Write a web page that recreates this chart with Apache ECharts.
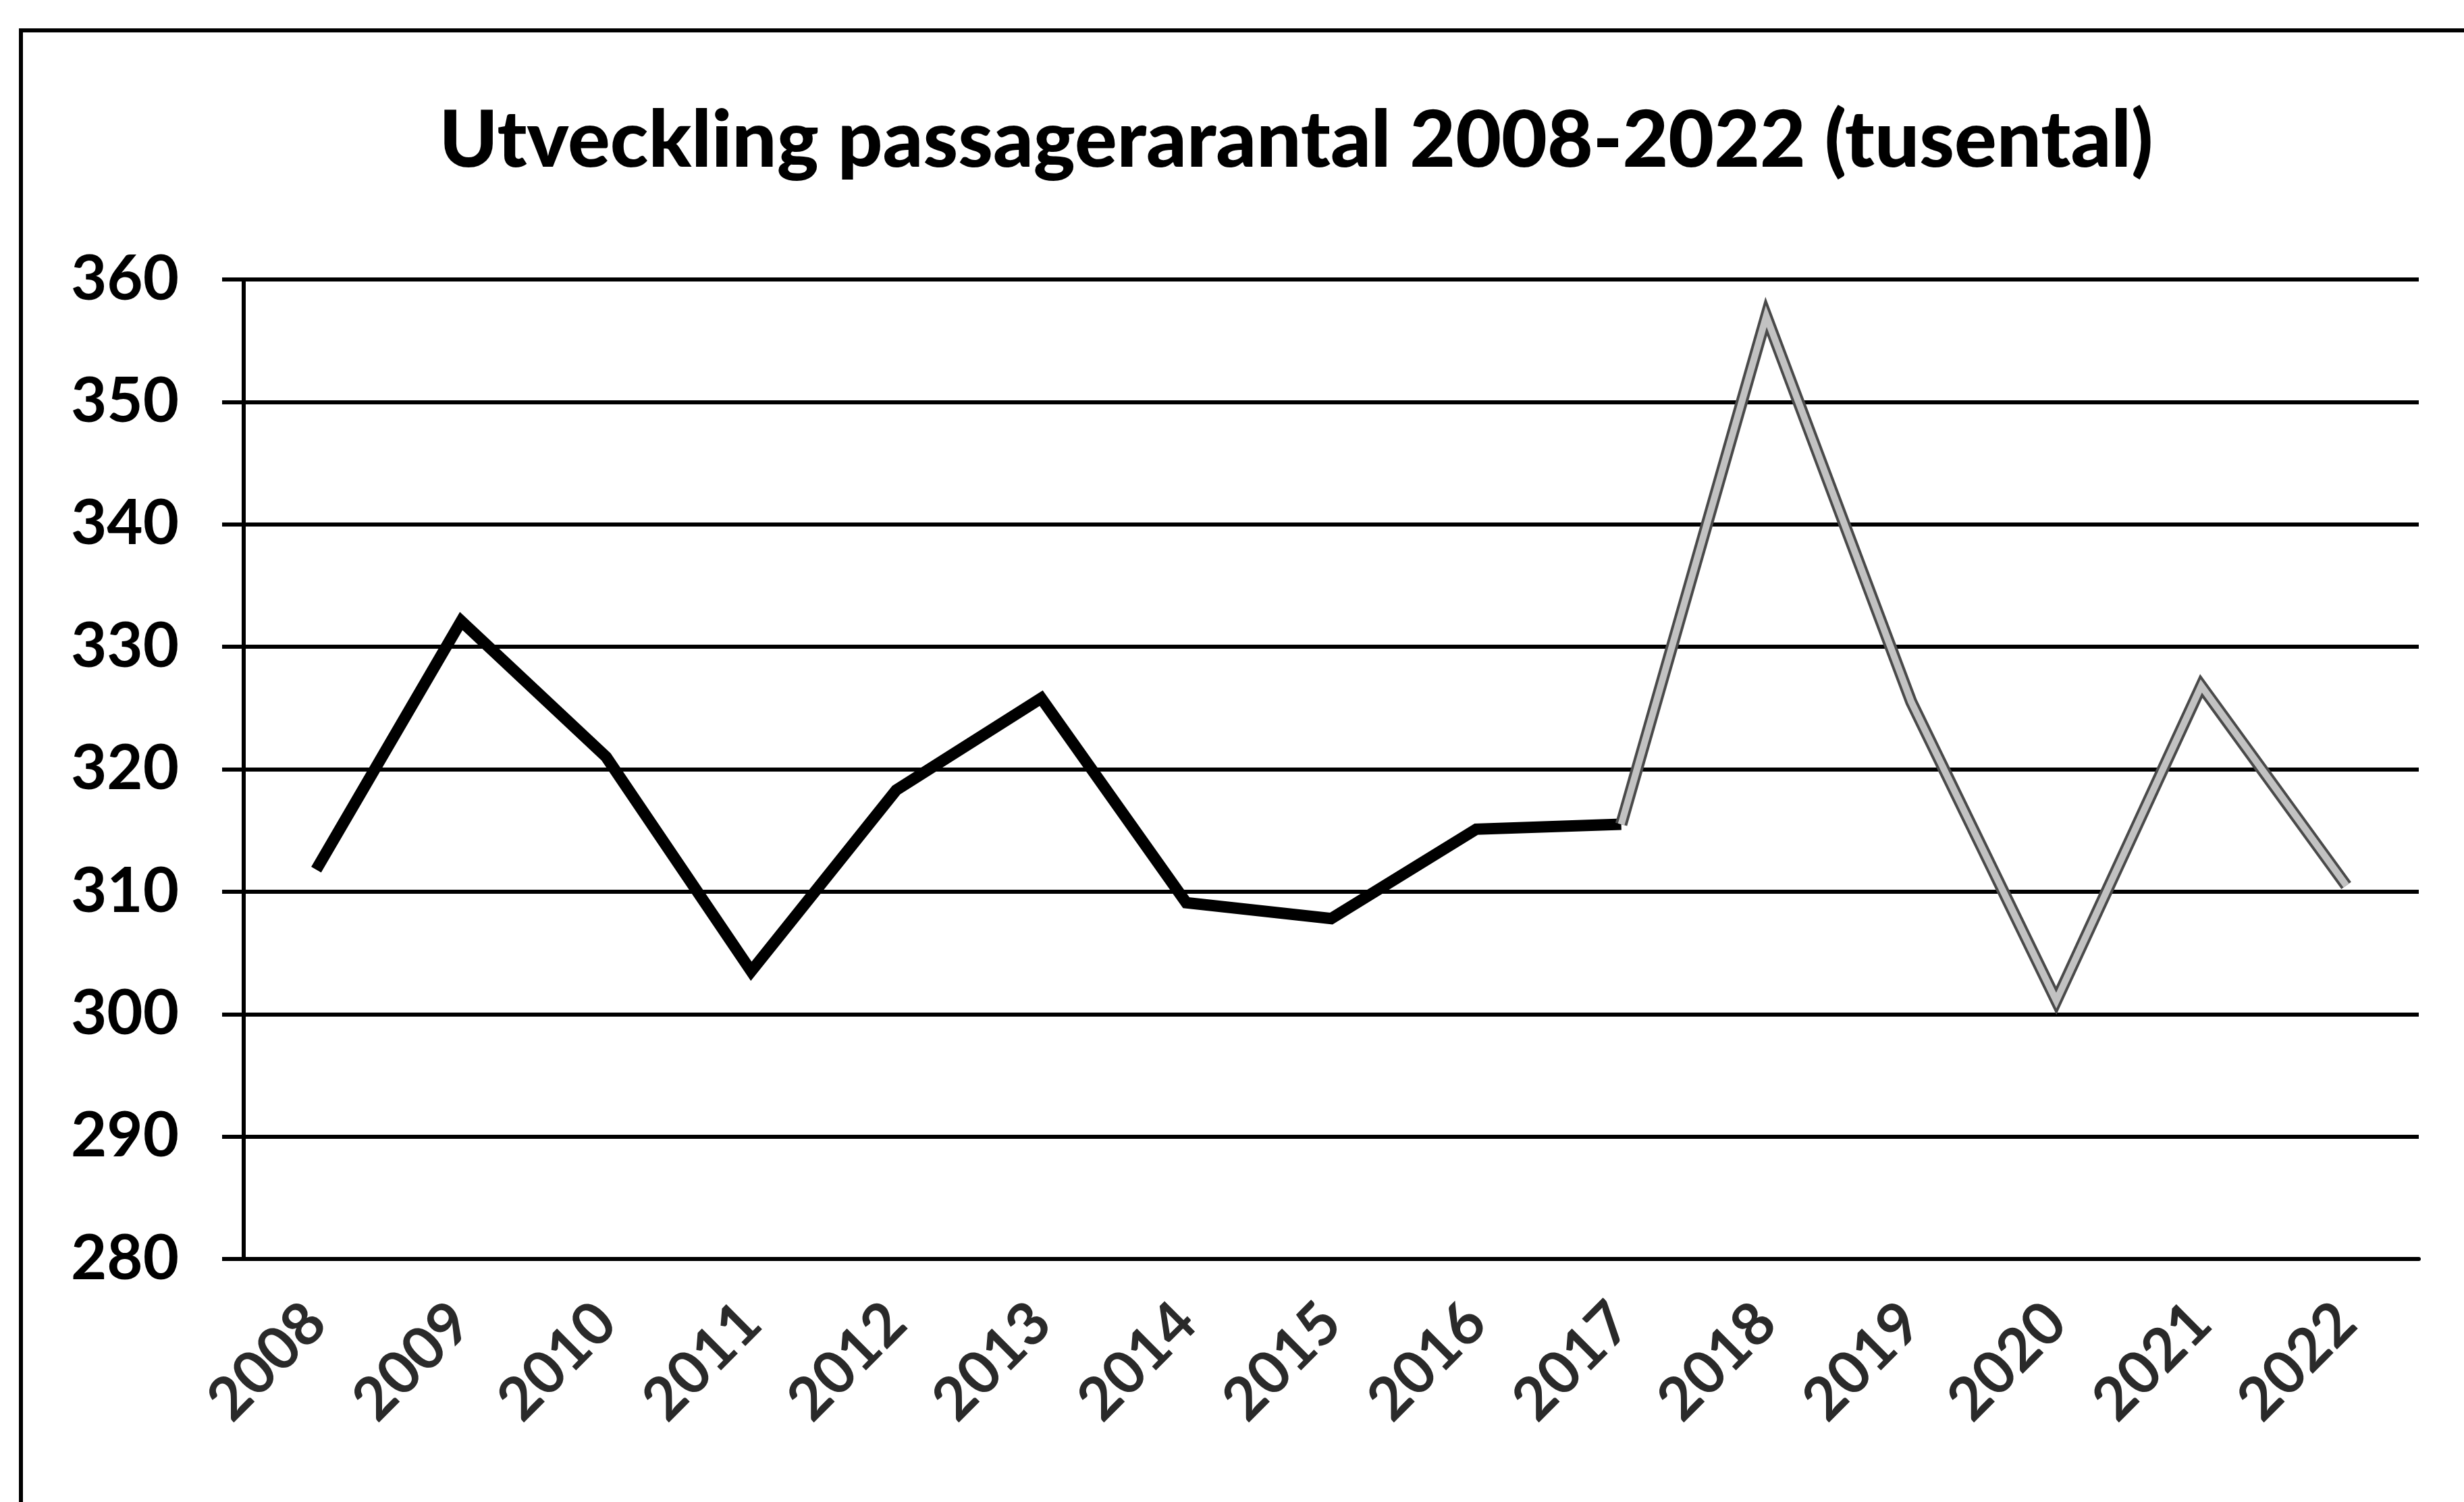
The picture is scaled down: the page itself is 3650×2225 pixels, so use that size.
<!DOCTYPE html>
<html>
<head>
<meta charset="utf-8">
<script src="https://cdn.jsdelivr.net/npm/echarts@6/dist/echarts.min.js"></script>
<style>
  html, body { margin: 0; padding: 0; background: #fff; }
  #chart { width: 3650px; height: 2225px; }
</style>
</head>
<body>
<div id="chart"></div>
<script>
// ---- data ----
const titleText = 'Utveckling passagerarantal 2008-2022 (tusental)';
const categories = ['2008','2009','2010','2011','2012','2013','2014','2015','2016','2017','2018','2019','2020','2021','2022'];
const values = [311.8, 332.1, 321.0, 303.5, 318.3, 325.8, 309.1, 307.8, 315.1, 315.5, 357.0, 325.5, 301.1, 326.8, 310.5];
const greyFromYear = '2017';
const yTicks = { min: 280, max: 360, interval: 10 };

const splitIdx = categories.indexOf(greyFromYear);
const blackPart = values.map((v, i) => (i <= splitIdx ? v : null));
const greyPart = values.map((v, i) => (i >= splitIdx ? v : null));

const chart = echarts.init(document.getElementById('chart'), null, { renderer: 'canvas' });
chart.setOption({
  backgroundColor: '#ffffff',
  animation: false,
  title: {
    text: titleText,
    left: 1915,
    top: 146,
    textAlign: 'center',
    textStyle: { fontFamily: 'Lato', fontWeight: 900, fontSize: 117, color: '#000' }
  },
  graphic: [{
    type: 'rect',
    shape: { x: 31, y: 45, width: 3700, height: 2300 },
    style: { fill: 'none', stroke: '#000', lineWidth: 6 },
    silent: true
  }],
  grid: { left: 361, right: 67, top: 414, bottom: 360, containLabel: false },
  xAxis: {
    type: 'category',
    data: categories,
    boundaryGap: true,
    axisLine: { show: true, lineStyle: { color: '#000', width: 6 } },
    axisTick: { show: false },
    axisLabel: {
      rotate: 45,
      margin: 80,
      interval: 0,
      fontFamily: 'Lato',
      fontWeight: 'bold',
      fontSize: 88,
      color: '#2a2a2a'
    },
    splitLine: { show: false }
  },
  yAxis: {
    type: 'value',
    min: yTicks.min,
    max: yTicks.max,
    interval: yTicks.interval,
    axisLine: { show: true, lineStyle: { color: '#000', width: 6 } },
    axisTick: { show: true, inside: false, length: 32, lineStyle: { color: '#000', width: 6 } },
    axisLabel: {
      margin: 96,
      fontFamily: 'Lato',
      fontWeight: 'bold',
      fontSize: 92,
      color: '#000'
    },
    splitLine: { show: true, lineStyle: { color: '#000', width: 6 } }
  },
  series: [
    {
      name: 'main',
      type: 'line',
      data: blackPart,
      symbol: 'none',
      connectNulls: false,
      lineStyle: { color: '#000', width: 17, join: 'miter' },
      z: 3
    },
    {
      name: 'greyOuter',
      type: 'line',
      data: greyPart,
      symbol: 'none',
      lineStyle: { color: '#4a4a4a', width: 18, join: 'miter' },
      z: 4
    },
    {
      name: 'greyInner',
      type: 'line',
      data: greyPart,
      symbol: 'none',
      lineStyle: { color: '#c2c2c2', width: 10, join: 'miter' },
      z: 5
    }
  ]
});
</script>
</body>
</html>
